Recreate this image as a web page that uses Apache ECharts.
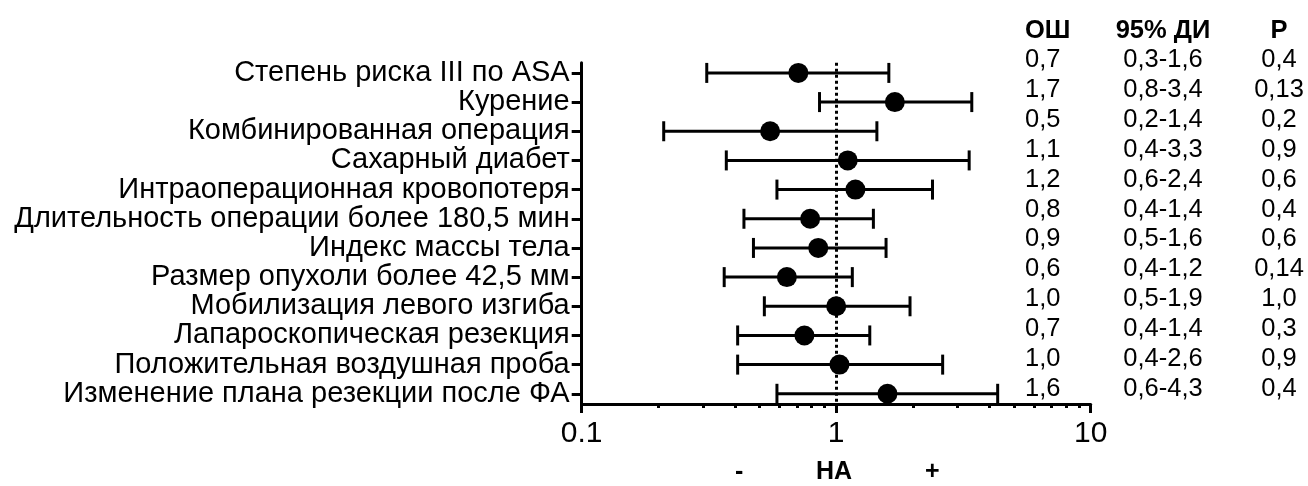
<!DOCTYPE html>
<html>
<head>
<meta charset="utf-8">
<script src="https://cdn.jsdelivr.net/npm/echarts@6/dist/echarts.min.js"></script>
<style>
  html, body { margin: 0; padding: 0; background: #fff; }
  #chart { width: 1308px; height: 486px; }
</style>
</head>
<body>
<div id="chart"></div>
<script>
// factors, top to bottom
const factors = [
  'Степень риска III по ASA',
  'Курение',
  'Комбинированная операция',
  'Сахарный диабет',
  'Интраоперационная кровопотеря',
  'Длительность операции более 180,5 мин',
  'Индекс массы тела',
  'Размер опухоли более 42,5 мм',
  'Мобилизация левого изгиба',
  'Лапароскопическая резекция',
  'Положительная воздушная проба',
  'Изменение плана резекции после ФА'
];

// plotted odds ratio and 95% CI bounds
const oddsRatio = [0.71, 1.70, 0.55, 1.11, 1.19, 0.79, 0.85, 0.64, 1.00, 0.75, 1.03, 1.59];
const ciLow     = [0.31, 0.86, 0.21, 0.37, 0.585, 0.434, 0.473, 0.363, 0.522, 0.41, 0.41, 0.585];
const ciHigh    = [1.61, 3.41, 1.445, 3.33, 2.39, 1.40, 1.57, 1.157, 1.95, 1.355, 2.62, 4.31];

// table text
const tableHeader = ['ОШ', '95% ДИ', 'P'];
const orText = ['0,7', '1,7', '0,5', '1,1', '1,2', '0,8', '0,9', '0,6', '1,0', '0,7', '1,0', '1,6'];
const ciText = ['0,3-1,6', '0,8-3,4', '0,2-1,4', '0,4-3,3', '0,6-2,4', '0,4-1,4', '0,5-1,6', '0,4-1,2', '0,5-1,9', '0,4-1,4', '0,4-2,6', '0,6-4,3'];
const pText  = ['0,4', '0,13', '0,2', '0,9', '0,6', '0,4', '0,6', '0,14', '1,0', '0,3', '0,9', '0,4'];

const minorTickValues = [0.2, 0.3, 0.4, 0.5, 0.6, 0.7, 0.8, 0.9, 2, 3, 4, 5, 6, 7, 8, 9];

const FONT = 'Liberation Sans, Arial, sans-serif';
const rowIdx = factors.map((_, i) => i);

const chart = echarts.init(document.getElementById('chart'));

// table cells: [column, row] with row 0 = header
const tableSeries = [orText, ciText, pText].map((col, c) => ({
  type: 'scatter',
  xAxisIndex: 2,
  yAxisIndex: 1,
  symbolSize: 0,
  silent: true,
  itemStyle: { opacity: 1 },
  data: [tableHeader[c]].concat(col).map((t, r) => ({
    value: [c, r],
    label: { formatter: t, fontWeight: r === 0 ? 'bold' : 'normal' }
  })),
  label: {
    show: true,
    position: 'inside',
    color: '#000',
    fontFamily: FONT,
    fontSize: 25.5,
    align: c === 0 ? 'left' : 'center',
    offset: c === 0 ? [-22, 0] : [0, 0]
  }
}));

chart.setOption({
  animation: false,
  backgroundColor: '#fff',
  grid: [
    { left: 581.7, right: 217.3, top: 62.7, bottom: 82 },
    { left: 1047, right: 29, top: 30.5, bottom: 97.5 }
  ],
  xAxis: [
    {
      type: 'log',
      logBase: 10,
      min: 0.1,
      max: 10,
      gridIndex: 0,
      position: 'bottom',
      axisLine: { onZero: false, lineStyle: { color: '#000', width: 3 } },
      axisTick: { length: 9, lineStyle: { color: '#000', width: 3 } },
      axisLabel: { color: '#000', fontSize: 30, fontFamily: FONT, margin: 15 },
      splitLine: { show: false }
    },
    {
      // minor ticks of the log axis, in log10 units
      type: 'value',
      gridIndex: 0,
      position: 'bottom',
      min: -1,
      max: 1,
      axisLine: { show: false, onZero: false },
      axisTick: {
        show: true,
        length: 4,
        customValues: minorTickValues.map(v => Math.log10(v)),
        lineStyle: { color: '#000', width: 3 }
      },
      axisLabel: { show: false },
      splitLine: { show: false }
    },
    {
      type: 'category',
      gridIndex: 1,
      data: tableHeader,
      boundaryGap: false,
      show: false
    }
  ],
  yAxis: [
    {
      type: 'value',
      gridIndex: 0,
      position: 'left',
      inverse: true,
      min: -0.35,
      max: 11.35,
      axisLine: { show: true, onZero: false, lineStyle: { color: '#000', width: 3 } },
      axisTick: { show: true, length: 10, customValues: rowIdx, lineStyle: { color: '#000', width: 3 } },
      axisLabel: {
        customValues: rowIdx,
        formatter: v => factors[v],
        color: '#000',
        fontSize: 29,
        fontFamily: FONT,
        margin: 12
      },
      splitLine: { show: false }
    },
    {
      type: 'value',
      gridIndex: 1,
      inverse: true,
      min: 0,
      max: 12,
      show: false
    }
  ],
  graphic: [
    { type: 'text', left: 735, top: 460, style: { text: '-', fontSize: 25, fontWeight: 'bold', fontFamily: FONT, fill: '#000' } },
    { type: 'text', left: 816, top: 460, style: { text: 'НА', fontSize: 25, fontWeight: 'bold', fontFamily: FONT, fill: '#000' } },
    { type: 'text', left: 925, top: 460, style: { text: '+', fontSize: 25, fontWeight: 'bold', fontFamily: FONT, fill: '#000' } }
  ],
  series: [
    {
      type: 'custom',
      xAxisIndex: 0,
      yAxisIndex: 0,
      z: 2,
      data: factors.map((_, i) => [ciLow[i], ciHigh[i], i]),
      renderItem: function (params, api) {
        const row = api.value(2);
        const a = api.coord([api.value(0), row]);
        const b = api.coord([api.value(1), row]);
        const cap = 10;
        const style = { stroke: '#000', lineWidth: 3 };
        return {
          type: 'group',
          children: [
            { type: 'line', shape: { x1: a[0], y1: a[1], x2: b[0], y2: b[1] }, style },
            { type: 'line', shape: { x1: a[0], y1: a[1] - cap, x2: a[0], y2: a[1] + cap }, style },
            { type: 'line', shape: { x1: b[0], y1: b[1] - cap, x2: b[0], y2: b[1] + cap }, style }
          ]
        };
      },
      markLine: {
        silent: true,
        symbol: 'none',
        label: { show: false },
        lineStyle: { color: '#000', width: 3, type: [3, 3] },
        data: [{ xAxis: 1 }]
      }
    },
    {
      type: 'scatter',
      xAxisIndex: 0,
      yAxisIndex: 0,
      z: 3,
      symbol: 'circle',
      symbolSize: 20,
      itemStyle: { color: '#000', opacity: 1 },
      data: oddsRatio.map((v, i) => [v, i])
    }
  ].concat(tableSeries)
});
</script>
</body>
</html>
